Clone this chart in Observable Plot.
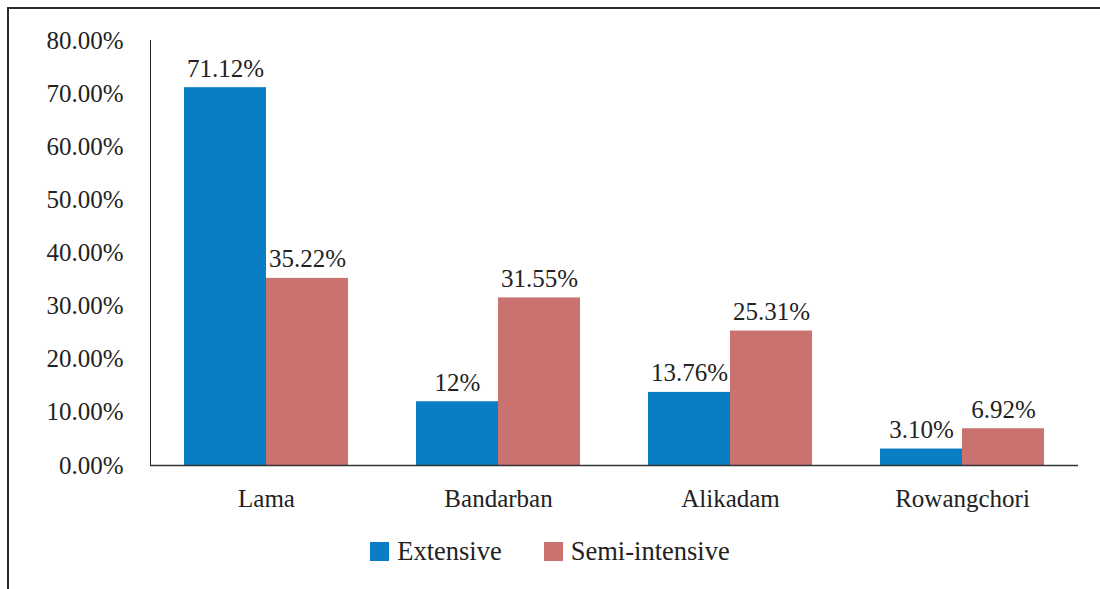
<!DOCTYPE html>
<html>
<head>
<meta charset="utf-8">
<script src="https://cdn.jsdelivr.net/npm/d3@7"></script>
<script src="https://cdn.jsdelivr.net/npm/@observablehq/plot@0.6"></script>
<style>
  html, body { margin: 0; padding: 0; background: #fff; overflow: hidden; width: 1100px; height: 589px; }
  #frame { position: absolute; left: 7px; top: 7px; width: 1200px; height: 700px; border-left: 2px solid #2b2b2b; border-top: 2px solid #2b2b2b; }
  #chart { position: absolute; left: 0; top: 0; }
  #legend { position: absolute; left: 0; top: 536px; width: 1100px; display: flex; justify-content: center; gap: 42px;
            font-family: "Liberation Serif", "Times New Roman", serif; font-size: 26.5px; color: #222; }
  .item { display: flex; align-items: center; gap: 8px; }
  .sw { width: 19px; height: 19px; display: inline-block; }
</style>
</head>
<body>
<div id="frame"></div>
<div id="chart"></div>
<div id="legend"></div>
<script>
const regions = ["Lama", "Bandarban", "Alikadam", "Rowangchori"];
const types = ["Extensive", "Semi-intensive"];
const extensive = [71.12, 12, 13.76, 3.10];
const semiIntensive = [35.22, 31.55, 25.31, 6.92];
const extensiveLabels = ["71.12%", "12%", "13.76%", "3.10%"];
const semiLabels = ["35.22%", "31.55%", "25.31%", "6.92%"];
const yTicks = [0, 10, 20, 30, 40, 50, 60, 70, 80];
const colors = ["#0a7dc5", "#c97270"];

const data = [];
regions.forEach((r, i) => {
  data.push({region: r, type: types[0], value: extensive[i], label: extensiveLabels[i]});
  data.push({region: r, type: types[1], value: semiIntensive[i], label: semiLabels[i]});
});

const font = "'Liberation Serif', 'Times New Roman', serif";

const chart = Plot.plot({
  width: 1100,
  height: 520,
  marginLeft: 149,
  marginRight: 22,
  marginTop: 40,
  marginBottom: 55,
  style: {fontFamily: font, fontSize: "25px", color: "#222", background: "transparent"},
  fx: {domain: regions, padding: 0, label: null, tickSize: 0, tickPadding: 24},
  x: {domain: types, paddingInner: 0, paddingOuter: 0.41, axis: null},
  y: {domain: [0, 80], ticks: yTicks, tickFormat: d => d.toFixed(2) + "%", tickSize: 0, tickPadding: 27, line: true, label: null},
  color: {domain: types, range: colors},
  marks: [
    Plot.barY(data, {fx: "region", x: "type", y: "value", fill: "type"}),
    Plot.ruleY([0], {stroke: "#333", strokeWidth: 1.5}),
    Plot.text(data, {fx: "region", x: "type", y: "value", text: "label", dy: -19, fontSize: 25, fill: "#222"})
  ]
});
document.getElementById("chart").appendChild(chart);

const legend = document.getElementById("legend");
types.forEach((t, i) => {
  const item = document.createElement("div");
  item.className = "item";
  const sw = document.createElement("span");
  sw.className = "sw";
  sw.style.background = colors[i];
  const lab = document.createElement("span");
  lab.textContent = t;
  item.appendChild(sw);
  item.appendChild(lab);
  legend.appendChild(item);
});
</script>
</body>
</html>
